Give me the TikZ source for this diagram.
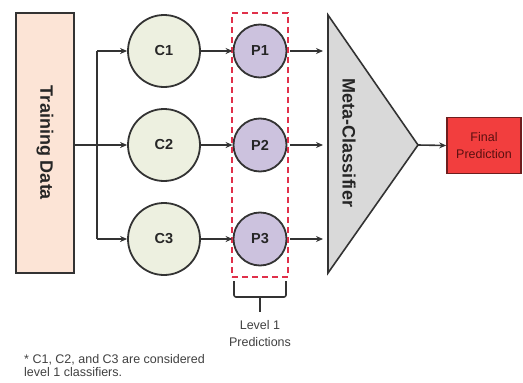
\documentclass[tikz,border=0pt]{standalone}
\usepackage{fontspec}
\setmainfont{Liberation Sans}
\usetikzlibrary{arrows.meta}
\definecolor{peach}{HTML}{FCE4D6}
\definecolor{cfill}{HTML}{EDF0E0}
\definecolor{pfill}{HTML}{CCC2DE}
\definecolor{tfill}{HTML}{D9D9D9}
\definecolor{dline}{HTML}{333333}
\definecolor{dred}{HTML}{E0304A}
\definecolor{fred}{HTML}{F23E3E}
\definecolor{fborder}{HTML}{6E1E1E}
\definecolor{ftext}{HTML}{5A1010}
\tikzset{
  cnode/.style={circle, draw=dline, line width=1.8pt, fill=cfill, minimum size=72pt, inner sep=0pt, font=\fontsize{14.5}{14.5}\selectfont\bfseries, text=black!85},
  pnode/.style={circle, draw=dline, line width=1.8pt, fill=pfill, minimum size=53pt, inner sep=0pt, font=\fontsize{14.5}{14.5}\selectfont\bfseries, text=black!85},
  conn/.style={draw=dline, line width=1.6pt},
  arr/.style={conn, -{Stealth[length=7pt,width=6pt]}},
  lbl/.style={font=\fontsize{12.5}{17}\selectfont, text=black!75, align=center}
}
\begin{document}
\begin{tikzpicture}[x=1pt,y=-1pt]
\useasboundingbox (0,0) rectangle (523,383);
% Training data
\node[draw=dline, line width=2pt, fill=peach, minimum width=58pt, minimum height=260pt, inner sep=0pt] (td) at (45,143) {};
\node[rotate=-90, font=\fontsize{18}{18}\selectfont\bfseries, text=black!85] (tdl) at (45,143) {Training Data};
% classifiers
\node[cnode] (c1) at (164,51) {C1};
\node[cnode] (c2) at (164,145) {C2};
\node[cnode] (c3) at (164,239) {C3};
% predictions
\node[pnode] (p1) at (260,51) {P1};
\node[pnode] (p2) at (260,145) {P2};
\node[pnode] (p3) at (260,239) {P3};
% dashed box
\node[draw=dred, line width=1.7pt, dash pattern=on 6pt off 4pt, minimum width=56pt, minimum height=264pt, inner sep=0pt] (lvl) at (260,145) {};
% triangle
\coordinate (tt) at (328,15);
\coordinate (tb) at (328,273);
\coordinate (ta) at (418,145);
\draw[draw=dline, line width=1.6pt, fill=tfill, line join=miter] (tt) -- (ta) -- (tb) -- cycle;
\node[rotate=-90, font=\fontsize{18}{18}\selectfont\bfseries, text=black!85] (mc) at (349,143) {Meta-Classifier};
\coordinate (m1) at (323,51);
\coordinate (m2) at (323,145);
\coordinate (m3) at (323,239);
% final
\node[draw=fborder, line width=1.6pt, fill=fred, minimum width=74pt, minimum height=56pt, inner sep=0pt, font=\fontsize{12.5}{16.5}\selectfont, text=ftext, align=center] (fp) at (484,145.5) {Final\\Prediction};
% trunk
\coordinate (j1) at (97,51);
\coordinate (j3) at (97,239);
\draw[conn] (j1) -- (j3);
\draw[arr] (td.east |- c2) -- (c2.west);
\draw[arr] (j1) -- (c1.west);
\draw[arr] (j3) -- (c3.west);
% C -> P
\draw[arr] (c1.east) -- (p1.west);
\draw[arr] (c2.east) -- (p2.west);
\draw[arr] (c3.east) -- (p3.west);
% P -> meta
\draw[arr, shorten <=3pt] (p1.east) -- (m1);
\draw[arr, shorten <=3pt] (p2.east) -- (m2);
\draw[arr, shorten <=3pt] (p3.east) -- (m3);
% meta -> final
\draw[arr] (ta) -- (fp.west);
% bracket
\coordinate (b1) at (234,281);
\coordinate (b2) at (286,281);
\coordinate (bm) at (260,312);
\draw[conn, rounded corners=2pt] (b1) -- (234,297) -- (286,297) -- (b2);
\draw[conn] (260,297) -- (bm);
\node[lbl, anchor=north] (l1) at (260,317) {Level 1\\Predictions};
% footnote
\node[anchor=north west, font=\fontsize{12.5}{13}\selectfont, text=black!75, align=left, inner sep=0pt] (fn) at (24,354) {* C1, C2, and C3 are considered\\level 1 classifiers.};
\end{tikzpicture}
\end{document}
